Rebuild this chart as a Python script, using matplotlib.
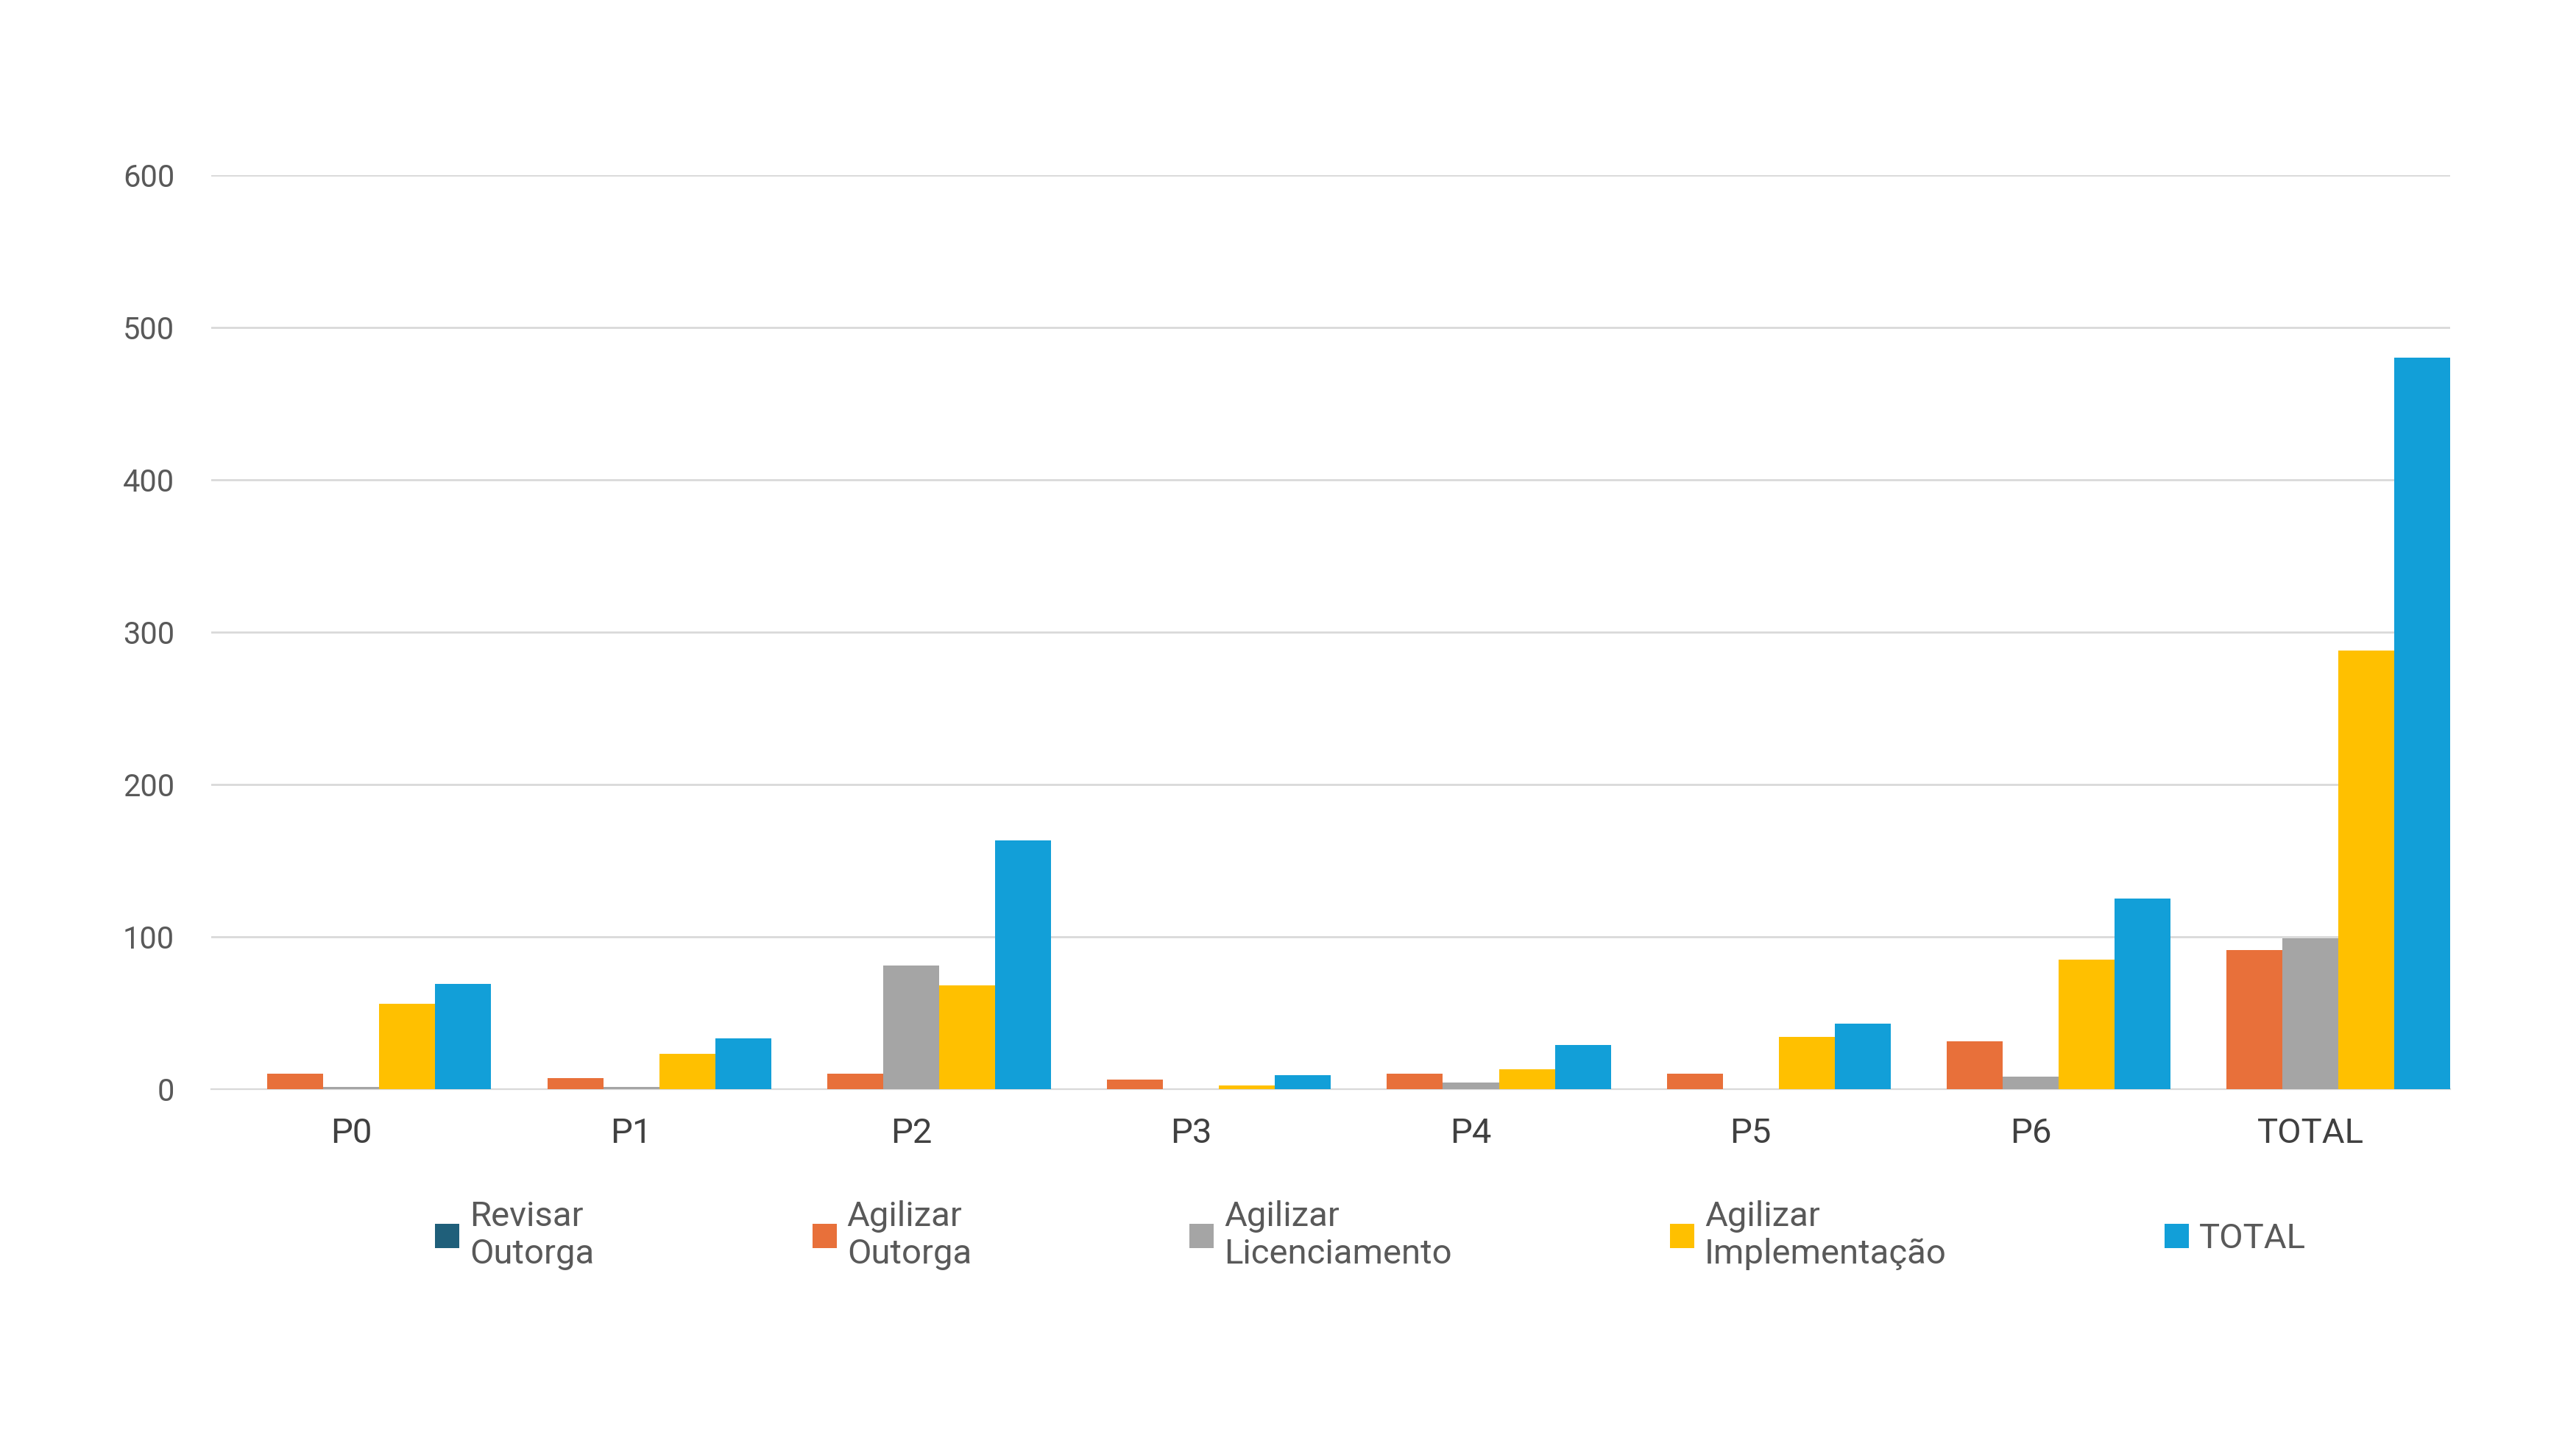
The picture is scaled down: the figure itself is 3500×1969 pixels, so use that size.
import matplotlib.pyplot as plt
import numpy as np

plt.rcParams['font.family'] = ['Liberation Sans Narrow', 'Roboto', 'DejaVu Sans']

categories = ['P0', 'P1', 'P2', 'P3', 'P4', 'P5', 'P6', 'TOTAL']
series_names = ['Revisar\nOutorga', 'Agilizar\nOutorga', 'Agilizar\nLicenciamento',
                'Agilizar\nImplementação', 'TOTAL']
revisar = [0, 0, 0, 0, 0, 0, 0, 0]
ag_outorga = [10, 7, 10, 6, 10, 10, 31, 91]
ag_licenc = [1, 1, 81, 0, 4, 0, 8, 99]
ag_implem = [56, 23, 68, 2, 13, 34, 85, 288]
total = [69, 33, 163, 9, 29, 43, 125, 480]
colors = ['#1F5F7A', '#E8703A', '#A5A5A5', '#FFC000', '#129FD8']

fig = plt.figure(figsize=(17.5, 9.845), dpi=200)
ax = fig.add_axes([128/1560, 1 - 659/877, (1484-128)/1560, (659-106)/877])

x = np.arange(len(categories))
w = 0.2
for i, (vals, c, name) in enumerate(zip([revisar, ag_outorga, ag_licenc, ag_implem, total], colors, series_names)):
    ax.bar(x + (i - 2) * w, vals, w, color=c, label=name, zorder=3)

ax.set_xlim(-0.5, 7.5)
ax.set_ylim(0, 600)
ax.set_yticks(range(0, 601, 100))
ax.grid(axis='y', color='#D9D9D9', lw=1)
for s in ['top', 'right', 'left']:
    ax.spines[s].set_visible(False)
ax.spines['bottom'].set_color('#D9D9D9')
ax.tick_params(length=0)
ax.tick_params(axis='y', labelsize=15, colors='#595959', pad=18)
ax.set_xticks(x)
ax.set_xticklabels(categories, fontsize=17, color='#404040')
ax.tick_params(axis='x', pad=14)

fig.legend(loc='upper left', bbox_to_anchor=(255/1560, 1 - 727/877, 1150/1560, 0.01),
           mode='expand', ncol=5, frameon=False, fontsize=17, labelcolor='#595959',
           handlelength=0.7, handleheight=0.7, handletextpad=0.3, borderaxespad=0)

fig.savefig('out.png')
